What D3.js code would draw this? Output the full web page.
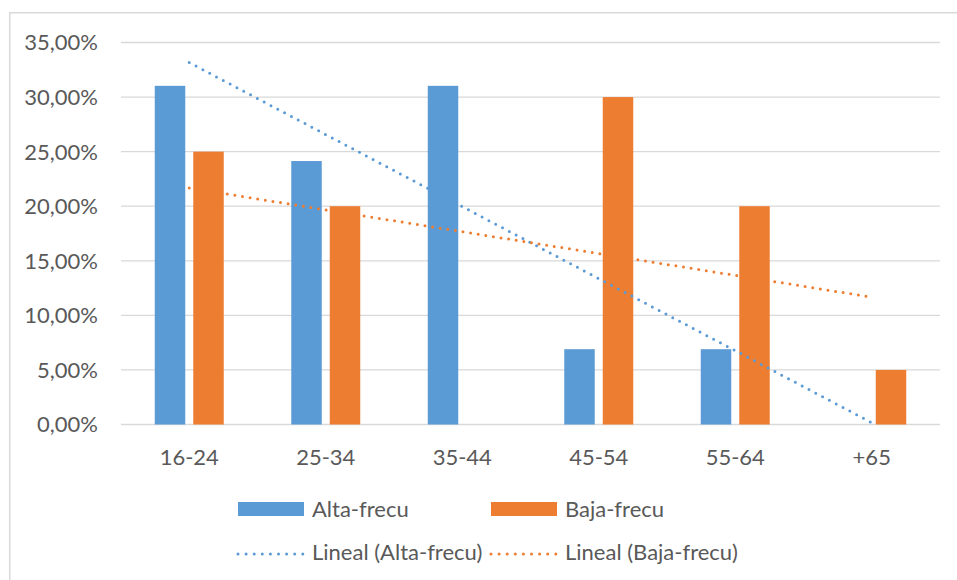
<!DOCTYPE html>
<html>
<head>
<meta charset="utf-8">
<script src="https://cdn.jsdelivr.net/npm/d3@7"></script>
<style>
  html, body { margin: 0; padding: 0; background: #ffffff; }
  svg { display: block; }
  text { font-family: Lato, "Open Sans", sans-serif; fill: #595959; }
</style>
</head>
<body>
<svg id="chart" width="957" height="580"></svg>
<script>
// ---- data ----
const categories = ["16-24", "25-34", "35-44", "45-54", "55-64", "+65"];
const altaFrecu = [0.3103, 0.2414, 0.3103, 0.069, 0.069, 0.0];
const bajaFrecu = [0.25, 0.20, 0.0, 0.30, 0.20, 0.05];
const yTicks = [0, 0.05, 0.10, 0.15, 0.20, 0.25, 0.30, 0.35];
const seriesNames = ["Alta-frecu", "Baja-frecu"];
const trendNames = ["Lineal (Alta-frecu)", "Lineal (Baja-frecu)"];
const colors = ["#5B9BD5", "#ED7D31"];

// ---- layout ----
const W = 957, H = 580;
const plot = { left: 121, right: 940, top: 42.5, bottom: 424.5 };
const svg = d3.select("#chart");
const FS = 22;

// outer chart border
svg.append("rect")
  .attr("x", 9.75).attr("y", 12.75)
  .attr("width", W + 20).attr("height", H + 20)
  .attr("fill", "none").attr("stroke", "#D9D9D9").attr("stroke-width", 1.5);

const x = d3.scaleBand().domain(categories).range([plot.left, plot.right]).padding(0);
const y = d3.scaleLinear().domain([0, 0.35]).range([plot.bottom, plot.top]);
const groupW = 69;
const xSub = d3.scaleBand().domain([0, 1]).range([0, groupW]).paddingInner(8 / 38.5).paddingOuter(0);

const locale = d3.formatLocale({ decimal: ",", thousands: ".", grouping: [3], currency: ["", "€"] });
const fmt = locale.format(".2%");

// gridlines
svg.append("g").selectAll("line").data(yTicks).join("line")
  .attr("x1", plot.left).attr("x2", plot.right)
  .attr("y1", d => y(d)).attr("y2", d => y(d))
  .attr("stroke", "#D9D9D9").attr("stroke-width", 1.3);

// y labels
svg.append("g").selectAll("text").data(yTicks).join("text")
  .attr("x", 98).attr("y", d => y(d))
  .attr("dy", "0.36em")
  .attr("text-anchor", "end")
  .attr("font-size", FS)
  .text(d => fmt(d));

// bars
const series = [altaFrecu, bajaFrecu];
series.forEach((vals, si) => {
  svg.append("g").selectAll("rect").data(vals).join("rect")
    .attr("x", (d, i) => x(categories[i]) + x.bandwidth() / 2 - groupW / 2 + xSub(si))
    .attr("width", xSub.bandwidth())
    .attr("y", d => y(d))
    .attr("height", d => y(0) - y(d))
    .attr("fill", colors[si]);
});

// category labels
svg.append("g").selectAll("text").data(categories).join("text")
  .attr("x", d => x(d) + x.bandwidth() / 2)
  .attr("y", 464.5)
  .attr("text-anchor", "middle")
  .attr("font-size", FS)
  .text(d => d);

// linear trend lines (least squares over category index)
function linReg(vals) {
  const xs = vals.map((v, i) => i + 1);
  const mx = d3.mean(xs), my = d3.mean(vals);
  let sxy = 0, sxx = 0;
  xs.forEach((xi, i) => { sxy += (xi - mx) * (vals[i] - my); sxx += (xi - mx) ** 2; });
  const b = sxy / sxx, a = my - b * mx;
  return xs.map(xi => a + b * xi);
}
const line = d3.line()
  .x((d, i) => x(categories[i]) + x.bandwidth() / 2)
  .y(d => y(d));
series.forEach((vals, si) => {
  svg.append("path")
    .attr("d", line(linReg(vals)))
    .attr("fill", "none")
    .attr("stroke", colors[si])
    .attr("stroke-width", 3)
    .attr("stroke-linecap", "round")
    .attr("stroke-dasharray", "0 7.7");
});

// legend
const legX = [238, 491];
const legTextX = [312, 565];
seriesNames.forEach((name, i) => {
  svg.append("rect")
    .attr("x", legX[i]).attr("y", 502).attr("width", 66).attr("height", 14)
    .attr("fill", colors[i]);
  svg.append("text")
    .attr("x", legTextX[i]).attr("y", 509).attr("dy", "0.36em")
    .attr("font-size", FS).text(name);
});
trendNames.forEach((name, i) => {
  svg.append("line")
    .attr("x1", legX[i]).attr("x2", legX[i] + 66)
    .attr("y1", 554).attr("y2", 554)
    .attr("stroke", colors[i]).attr("stroke-width", 3)
    .attr("stroke-linecap", "round").attr("stroke-dasharray", "0 8.1");
  svg.append("text")
    .attr("x", legTextX[i]).attr("y", 552).attr("dy", "0.36em")
    .attr("font-size", FS).text(name);
});
</script>
</body>
</html>
